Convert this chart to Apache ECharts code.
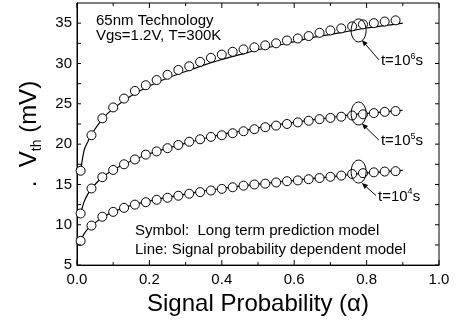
<!DOCTYPE html>
<html>
<head>
<meta charset="utf-8">
<script src="https://cdn.jsdelivr.net/npm/echarts@6/dist/echarts.min.js"></script>
<style>
  html, body { margin: 0; padding: 0; background: #fff; }
  #main { width: 456px; height: 321px; }
</style>
</head>
<body>
<div id="main"></div>
<script>
// signal probability of the symbol points
const alphaPts = [0.01, 0.04, 0.07, 0.10, 0.13, 0.16, 0.19, 0.22, 0.25, 0.28,
  0.31, 0.34, 0.37, 0.40, 0.43, 0.46, 0.49, 0.52, 0.55, 0.58,
  0.61, 0.64, 0.67, 0.70, 0.73, 0.76, 0.79, 0.82, 0.85, 0.88];

// long term prediction model (symbols), mV
const sym1e6 = [16.7, 21.1, 23.2, 24.55, 25.65, 26.6, 27.3, 27.95, 28.6, 29.2,
  29.65, 30.2, 30.7, 31.1, 31.45, 31.75, 32.0, 32.25, 32.5, 32.85,
  33.1, 33.4, 33.8, 34.1, 34.35, 34.6, 34.85, 35.0, 35.2, 35.35];
const sym1e5 = [11.4, 14.5, 15.9, 16.8, 17.5, 18.1, 18.7, 19.1, 19.5, 19.9,
  20.3, 20.6, 20.9, 21.1, 21.35, 21.6, 21.85, 22.1, 22.3, 22.5,
  22.7, 22.9, 23.1, 23.25, 23.4, 23.55, 23.7, 23.85, 24.0, 24.1];
const sym1e4 = [8.0, 9.9, 11.0, 11.6, 12.1, 12.5, 12.8, 13.1, 13.35, 13.6,
  13.85, 14.05, 14.25, 14.45, 14.65, 14.85, 15.0, 15.1, 15.25, 15.4,
  15.5, 15.65, 15.8, 15.95, 16.1, 16.3, 16.4, 16.5, 16.6, 16.65];

// signal probability dependent model (lines), mV
const alphaLine = [0.01, 0.02, 0.03, 0.04, 0.07, 0.10, 0.15, 0.20, 0.25, 0.30,
  0.35, 0.40, 0.45, 0.50, 0.55, 0.60, 0.65, 0.70, 0.75, 0.80, 0.85, 0.90];
const line1e6 = [16.7, 19.3, 20.3, 21.2, 23.1, 24.4, 26.0, 27.2, 28.2, 29.0,
  29.8, 30.5, 31.1, 31.7, 32.2, 32.7, 33.2, 33.6, 34.0, 34.4, 34.7, 35.0];
const line1e5 = [11.4, 12.9, 13.8, 14.5, 15.9, 16.8, 17.9, 18.8, 19.5, 20.1,
  20.7, 21.2, 21.6, 22.0, 22.4, 22.7, 23.0, 23.3, 23.6, 23.8, 24.0, 24.2];
const line1e4 = [8.0, 8.9, 9.5, 9.9, 10.9, 11.6, 12.4, 12.95, 13.4, 13.8,
  14.2, 14.5, 14.8, 15.05, 15.3, 15.5, 15.75, 15.95, 16.2, 16.4, 16.6, 16.75];

// tick values of the frame (every other x tick is a major one)
const xTickVals = [0, 0.1, 0.2, 0.3, 0.4, 0.5, 0.6, 0.7, 0.8, 0.9, 1.0];
const yTickVals = [5, 7.5, 10, 12.5, 15, 17.5, 20, 22.5, 25, 27.5, 30, 32.5, 35];

// stress time labels and where their ellipses / arrows point
const timeExp = ['6', '5', '4'];
const ellipseAt = [[0.778, 34.1], [0.778, 23.8], [0.778, 16.6]];
const arrowHead = [[0.787, 32.9], [0.787, 22.55], [0.787, 15.18]];
const arrowTail = [[0.834, 30.45], [0.834, 20.5], [0.826, 13.63]];

const X_MIN = 0, X_MAX = 1, Y_MIN = 5, Y_MAX = 37.5;
const FONT = '"Liberation Sans", Arial, sans-serif';

const zip = (xs, ys) => xs.map((x, i) => [x, ys[i]]);

const chart = echarts.init(document.getElementById('main'));

const symSeries = (data) => ({
  type: 'scatter', data: data, symbol: 'circle', symbolSize: 9,
  itemStyle: { color: '#fff', borderColor: '#000', borderWidth: 1, opacity: 1 },
  z: 3, silent: true
});
const lineSeries = (data) => ({
  type: 'line', data: data, smooth: 0.3, showSymbol: false,
  lineStyle: { color: '#000', width: 1.2 }, z: 2, silent: true
});

// inward ticks on all four sides of the frame
const renderTicks = (params, api) => {
  const children = [];
  const seg = (p, dx, dy) => children.push({
    type: 'line', shape: { x1: p[0], y1: p[1], x2: p[0] + dx, y2: p[1] + dy },
    style: { stroke: '#000', lineWidth: 1 }
  });
  xTickVals.forEach((x, k) => {
    const len = k % 2 === 0 ? 5 : 3;
    seg(api.coord([x, Y_MIN]), 0, -len);
    seg(api.coord([x, Y_MAX]), 0, len);
  });
  yTickVals.forEach(y => {
    seg(api.coord([X_MIN, y]), 4, 0);
    seg(api.coord([X_MAX, y]), -4, 0);
  });
  return { type: 'group', children: children };
};

// ellipse + arrow + "t=10^n s" label, placed through the cartesian coords
const renderNote = (params, api) => {
  const i = api.value(2);
  const c = api.coord(ellipseAt[i]);
  const h = api.coord(arrowHead[i]);
  const t = api.coord(arrowTail[i]);
  const dx = h[0] - t[0], dy = h[1] - t[1];
  const len = Math.sqrt(dx * dx + dy * dy);
  const ux = dx / len, uy = dy / len;
  const al = 6, aw = 2.6;
  const bx = h[0] - ux * al, by = h[1] - uy * al;
  return {
    type: 'group',
    children: [
      { type: 'ellipse', shape: { cx: c[0], cy: c[1], rx: 7.5, ry: 11.5 },
        style: { fill: 'none', stroke: '#000', lineWidth: 1 } },
      { type: 'line', shape: { x1: t[0], y1: t[1], x2: bx, y2: by },
        style: { stroke: '#000', lineWidth: 1 } },
      { type: 'polygon',
        shape: { points: [[h[0], h[1]], [bx - uy * aw, by + ux * aw], [bx + uy * aw, by - ux * aw]] },
        style: { fill: '#000' } },
      { type: 'text', x: t[0] + 2, y: t[1] + 1,
        style: {
          text: '{a|t=10}{s|' + timeExp[i] + '}{a|s}',
          verticalAlign: 'middle', fill: '#000',
          rich: {
            a: { fontSize: 15, fontFamily: FONT, fill: '#000', lineHeight: 18 },
            s: { fontSize: 9, fontFamily: FONT, fill: '#000', lineHeight: 10, verticalAlign: 'top' }
          }
        } }
    ]
  };
};

const textStyle = (t) => ({ text: t, font: '15px ' + FONT, fill: '#000' });

chart.setOption({
  animation: false,
  backgroundColor: '#fff',
  grid: { show: true, left: 77, right: 17, top: 3, bottom: 50,
    borderColor: '#000', borderWidth: 1, backgroundColor: 'transparent' },
  graphic: [
    { type: 'text', left: 96, top: 13, style: textStyle('65nm Technology') },
    { type: 'text', left: 96, top: 28, style: textStyle('Vgs=1.2V, T=300K') },
    { type: 'text', left: 135, top: 223, style: textStyle('Symbol:  Long term prediction model') },
    { type: 'text', left: 135, top: 242, style: textStyle('Line: Signal probability dependent model') }
  ],
  xAxis: {
    type: 'value', min: X_MIN, max: X_MAX, interval: 0.2, position: 'bottom',
    axisLine: { show: true, onZero: false, lineStyle: { color: '#000', width: 1 } },
    axisTick: { show: false },
    splitLine: { show: false },
    axisLabel: { color: '#000', fontSize: 15, fontFamily: FONT, margin: 7,
      formatter: v => v.toFixed(1) },
    name: 'Signal Probability (\u03b1)', nameLocation: 'middle', nameGap: 20,
    nameTextStyle: { color: '#000', fontSize: 24, fontFamily: FONT }
  },
  yAxis: {
    type: 'value', min: Y_MIN, max: Y_MAX, interval: 2.5, position: 'left',
    axisLine: { show: true, onZero: false, lineStyle: { color: '#000', width: 1 } },
    axisTick: { show: false },
    splitLine: { show: false },
    axisLabel: { color: '#000', fontSize: 15, fontFamily: FONT, margin: 5,
      formatter: v => (v % 5 === 0 && v < 37) ? String(v) : '' },
    name: '{v|.  V}{sub|th}{v| (mV)}', nameLocation: 'middle', nameGap: 27,
    nameTextStyle: {
      color: '#000', fontFamily: FONT, fontSize: 24,
      rich: {
        v: { fontSize: 24, fontFamily: FONT, color: '#000', lineHeight: 30 },
        sub: { fontSize: 14, fontFamily: FONT, color: '#000', lineHeight: 14, verticalAlign: 'bottom' }
      }
    }
  },
  series: [
    lineSeries(zip(alphaLine, line1e6)),
    lineSeries(zip(alphaLine, line1e5)),
    lineSeries(zip(alphaLine, line1e4)),
    symSeries(zip(alphaPts, sym1e6)),
    symSeries(zip(alphaPts, sym1e5)),
    symSeries(zip(alphaPts, sym1e4)),
    {
      type: 'custom', renderItem: renderTicks, silent: true, z: 4,
      data: [[X_MIN, Y_MIN]], encode: { x: 0, y: 1 }
    },
    {
      type: 'custom', renderItem: renderNote, silent: true, z: 10,
      data: ellipseAt.map((p, i) => [p[0], p[1], i]),
      encode: { x: 0, y: 1 }
    }
  ]
});
</script>
</body>
</html>
